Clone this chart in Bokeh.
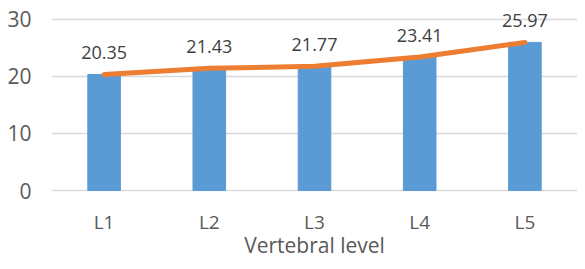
from bokeh.plotting import figure
from bokeh.models import Range1d, FactorRange, ColumnDataSource
from bokeh.core.properties import value
from bokeh.embed import file_html
from bokeh.resources import INLINE

levels = ["L1", "L2", "L3", "L4", "L5"]
values = [20.35, 21.43, 21.77, 23.41, 25.97]
labels = ["20.35", "21.43", "21.77", "23.41", "25.97"]
y_ticks = [0, 10, 20, 30]

FONT = "Open Sans"
src = ColumnDataSource(dict(x=levels, y=values, t=labels))

p = figure(width=577, height=261, x_range=FactorRange(*levels, range_padding=0),
           y_range=Range1d(-0.17, 32.44), output_backend="svg", toolbar_location=None,
           min_border_left=51, min_border_right=0, min_border_top=5, min_border_bottom=60)
p.outline_line_color = None
p.background_fill_color = "white"
p.border_fill_color = "white"

p.vbar(x="x", top="y", width=0.31, color="#5b9bd5", source=src)
p.line(x="x", y="y", line_color="#ed7d31", line_width=5, line_cap="round", source=src)
p.text(x="x", y="y", text="t", source=src, text_align="center", text_baseline="middle",
       y_offset=-22, text_font=value(FONT), text_font_size="18px", text_color="#404040")

p.xgrid.grid_line_color = None
p.ygrid.grid_line_color = "#d9d9d9"
p.ygrid.grid_line_width = 1.5
p.yaxis.ticker = y_ticks

for ax in (p.xaxis, p.yaxis):
    ax.axis_line_color = None
    ax.major_tick_line_color = None
    ax.minor_tick_line_color = None
    ax.major_label_text_font = FONT
    ax.major_label_text_color = "#595959"
    ax.major_label_text_line_height = 1.0

p.yaxis.major_label_text_font_size = "21px"
p.xaxis.major_label_text_font_size = "19px"
p.yaxis.major_label_standoff = 14
p.xaxis.major_label_standoff = 11
p.xaxis.axis_label = "Vertebral level"
p.xaxis.axis_label_text_font = FONT
p.xaxis.axis_label_text_font_size = "21px"
p.xaxis.axis_label_text_font_style = "normal"
p.xaxis.axis_label_text_color = "#595959"
p.xaxis.axis_label_text_line_height = 1.0
p.xaxis.axis_label_standoff = -7

open("out.html", "w").write(file_html(p, INLINE))
